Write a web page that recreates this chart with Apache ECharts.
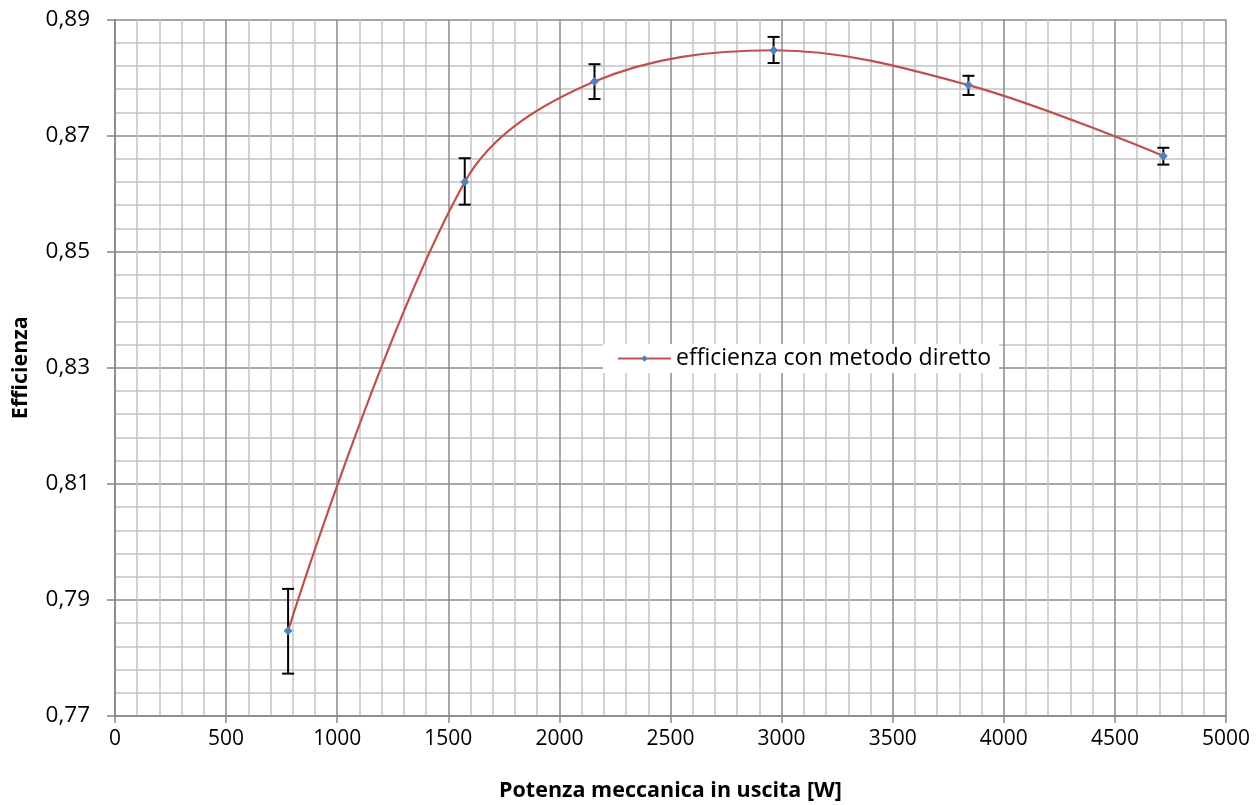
<!DOCTYPE html>
<html><head><meta charset="utf-8">
<script src="https://cdn.jsdelivr.net/npm/echarts@6/dist/echarts.min.js"></script>
<style>html,body{margin:0;padding:0;background:#fff}#c{width:1257px;height:805px}</style>
</head><body><div id="c"></div>
<script>
const xValues = [779, 1574, 2158, 2964, 3841, 4718];
const yValues = [0.7847, 0.8620, 0.8793, 0.8847, 0.8787, 0.8665];
const errLow  = [0.7773, 0.8581, 0.8763, 0.8825, 0.8770, 0.8650];
const errHigh = [0.7919, 0.8661, 0.8823, 0.8870, 0.8803, 0.8679];
const seriesName = 'efficienza con metodo diretto';
const xTitle = 'Potenza meccanica in uscita [W]';
const yTitle = 'Efficienza';

const FONT = 'Open Sans';
const lineData = xValues.map((x, i) => [x, yValues[i]]);
const errData = xValues.map((x, i) => [x, errLow[i], errHigh[i]]);

const chart = echarts.init(document.getElementById('c'), null, {renderer: 'canvas'});
chart.setOption({
  animation: false,
  backgroundColor: '#fff',
  textStyle: {fontFamily: FONT},
  grid: {left: 115, right: 31, top: 19.5, bottom: 89, containLabel: false, outerBoundsMode: 'none'},
  legend: {
    data: [seriesName],
    left: 603, top: 344,
    backgroundColor: '#fff',
    padding: [3, 8, 3, 14],
    itemWidth: 53, itemHeight: 8, itemGap: 6,
    textStyle: {fontFamily: FONT, fontSize: 23, color: '#000'}
  },
  xAxis: {
    type: 'value', min: 0, max: 5000, interval: 500,
    name: xTitle, nameLocation: 'middle', nameGap: 64,
    nameTextStyle: {fontFamily: FONT, fontSize: 21.5, fontWeight: 'bold', color: '#000'},
    axisLine: {lineStyle: {color: '#868686', width: 1.5}},
    axisTick: {show: true, length: 7, lineStyle: {color: '#868686', width: 1.5}},
    axisLabel: {fontFamily: FONT, fontSize: 21, color: '#000', margin: 13,
      formatter: v => String(v)},
    splitLine: {show: true, lineStyle: {color: '#8a8a8a', width: 1.5}},
    minorTick: {show: true, splitNumber: 5, length: 0},
    minorSplitLine: {show: true, lineStyle: {color: '#c4c4c4', width: 1.5}}
  },
  yAxis: {
    type: 'value', min: 0.77, max: 0.89, interval: 0.02,
    name: yTitle, nameLocation: 'middle', nameGap: 83, nameRotate: 90,
    nameTextStyle: {fontFamily: FONT, fontSize: 21.5, fontWeight: 'bold', color: '#000'},
    axisLine: {show: true, lineStyle: {color: '#868686', width: 1.5}},
    axisTick: {show: true, length: 8, lineStyle: {color: '#868686', width: 1.5}},
    axisLabel: {fontFamily: FONT, fontSize: 22.5, color: '#000', margin: 25,
      formatter: v => v.toFixed(2).replace('.', ',')},
    splitLine: {show: true, lineStyle: {color: '#8a8a8a', width: 1.5}},
    minorTick: {show: true, splitNumber: 5, length: 0},
    minorSplitLine: {show: true, lineStyle: {color: '#c4c4c4', width: 1.5}}
  },
  series: [
    {
      name: seriesName, type: 'line', data: lineData, smooth: 0.35,
      symbol: 'diamond', symbolSize: 9,
      lineStyle: {color: '#C0504D', width: 2.2},
      itemStyle: {color: '#4F81BD'},
      z: 4
    },
    {
      name: 'err', type: 'custom', data: errData, z: 3,
      renderItem: (params, api) => {
        const x = api.value(0);
        const lo = api.coord([x, api.value(1)]);
        const hi = api.coord([x, api.value(2)]);
        const w = 6;
        const st = {stroke: '#000', lineWidth: 2};
        return {type: 'group', children: [
          {type: 'line', shape: {x1: lo[0], y1: lo[1], x2: hi[0], y2: hi[1]}, style: st},
          {type: 'line', shape: {x1: lo[0]-w, y1: lo[1], x2: lo[0]+w, y2: lo[1]}, style: st},
          {type: 'line', shape: {x1: hi[0]-w, y1: hi[1], x2: hi[0]+w, y2: hi[1]}, style: st}
        ]};
      }
    }
  ]
});
</script></body></html>
